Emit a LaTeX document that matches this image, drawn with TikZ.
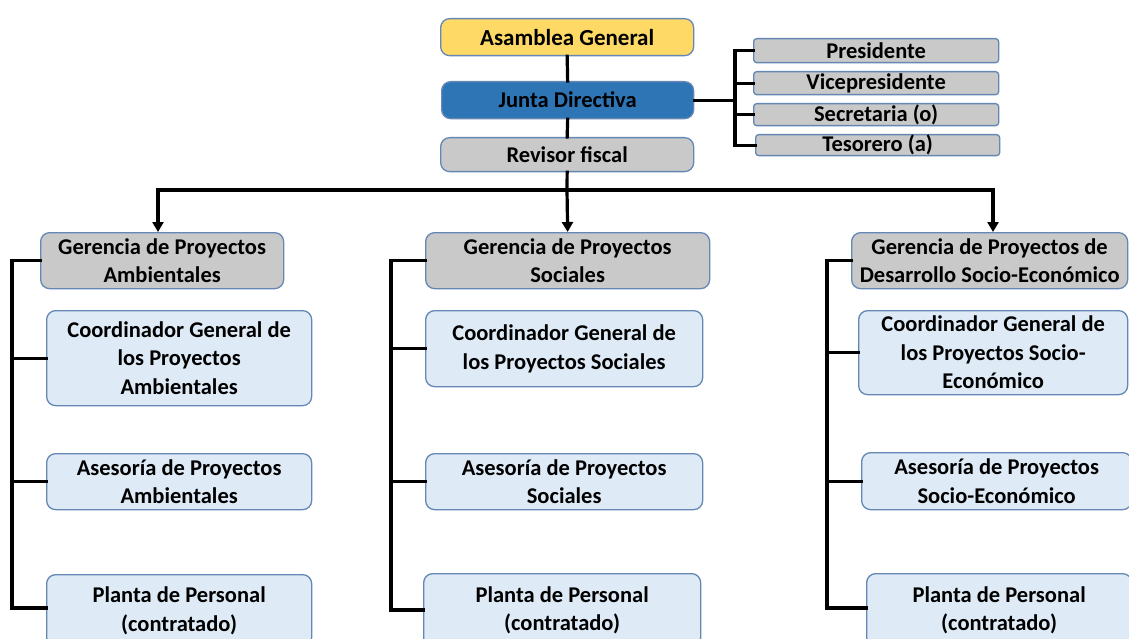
\documentclass[tikz,border=0pt]{standalone}
\usepackage{fontspec}
\setmainfont{Carlito}
\usetikzlibrary{arrows.meta}
\definecolor{yel}{HTML}{FFD966}
\definecolor{blu}{HTML}{2E75B6}
\definecolor{gry}{HTML}{C9C9C9}
\definecolor{lbl}{HTML}{DEEBF7}
\definecolor{bdr}{RGB}{100,135,180}
\tikzset{
  box/.style={draw=bdr, line width=1.3pt, rounded corners=9pt, align=center, inner sep=0pt,
    font=\fontsize{22.5}{28.5}\selectfont\bfseries, anchor=north west, text=black},
  sbox/.style={box, rounded corners=3pt, font=\fontsize{22.5}{24}\selectfont\bfseries},
  conn/.style={line width=3.2pt, line cap=rect},
  arr/.style={line width=3.2pt, -{Triangle[width=11pt,length=10pt]}},
}
\newcommand{\bx}[7]{\node[#1, fill=#2, minimum width=#5-#3, minimum height=#6-#4] (#7) at (#3,#4)}
\begin{document}
\begin{tikzpicture}[x=1pt,y=-1pt]
\clip (0,0) rectangle (1129,639);
\fill[white] (0,0) rectangle (1129,639);
% top column
\bx{box}{yel}{440}{18}{693}{55}{ag} {\fontsize{23}{28}\selectfont Asamblea General};
\bx{box}{blu}{441}{81}{693}{118}{jd} {Junta Directiva};
\bx{box}{gry}{440}{137}{693}{171}{rf} {Revisor fiscal};
% officers
\bx{sbox}{gry}{753}{38}{998}{62}{pr} {Presidente};
\bx{sbox}{gry}{753}{71}{998}{94}{vp} {Vicepresidente};
\bx{sbox}{gry}{753}{103}{998}{125}{se} {Secretaria (o)};
\bx{sbox}{gry}{755}{134}{999}{155}{te} {Tesorero (a)};
% gerencias
\bx{box}{gry}{40}{232}{283}{288}{g1} {Gerencia de Proyectos\\Ambientales};
\bx{box}{gry}{425}{232}{709}{288}{g2} {Gerencia de Proyectos\\Sociales};
\bx{box}{gry}{851}{232}{1127}{288}{g3} {Gerencia de Proyectos de\\Desarrollo Socio-Económico};
% column 1
\bx{box}{lbl}{46}{310}{311}{405}{c1} {Coordinador General de\\los Proyectos\\Ambientales};
\bx{box}{lbl}{46}{453}{311}{509}{a1} {Asesoría de Proyectos\\Ambientales};
\bx{box}{lbl}{46}{574}{311}{646}{p1} {Planta de Personal\\(contratado)};
% column 2
\bx{box}{lbl}{425}{310}{702}{386}{c2} {Coordinador General de\\los Proyectos Sociales};
\bx{box}{lbl}{425}{453}{702}{509}{a2} {Asesoría de Proyectos\\Sociales};
\bx{box}{lbl}{423}{573}{700}{646}{p2} {Planta de Personal\\(contratado)};
% column 3
\bx{box}{lbl}{858}{310}{1127}{394}{c3} {Coordinador General de\\los Proyectos Socio-\\Económico};
\bx{box}{lbl}{861}{452}{1131}{509}{a3} {Asesoría de Proyectos\\Socio-Económico};
\bx{box}{lbl}{866}{573}{1131}{646}{p3} {Planta de Personal\\(contratado)};
% connectors top
\draw[conn] (ag.south) -- (jd.north);
\draw[conn] (jd.south) -- (rf.north);
\coordinate (rb) at (735,0);
\draw[conn] (jd.east) -- (jd.east -| rb);
\draw[conn] (pr.west) -- (pr.west -| rb) -- (te.west -| rb) -- (te.west);
\draw[conn] (vp.west -| rb) -- (vp.west);
\draw[conn] (se.west -| rb) -- (se.west);
% distribution
\coordinate (hb) at (567,190);
\coordinate (h1) at (158,190);
\coordinate (h3) at (993,190);
\draw[conn] (rf.south) -- (hb);
\draw[conn] (h1) -- (h3);
\draw[arr] (h1) -- (h1 |- g1.north);
\draw[arr] (hb) -- (g2.north);
\draw[arr] (h3) -- (h3 |- g3.north);
% brackets
\coordinate (b1) at (12,0);
\coordinate (b2) at (391,0);
\coordinate (b3) at (827,0);
\draw[conn] (g1.west) -- (g1.west -| b1) -- (0,608 -| b1) -- (46,608);
\draw[conn] (c1.west -| b1) -- (c1.west);
\draw[conn] (a1.west -| b1) -- (a1.west);
\draw[conn] (g2.west) -- (g2.west -| b2) -- (0,610 -| b2) -- (423,610);
\draw[conn] (c2.west -| b2) -- (c2.west);
\draw[conn] (a2.west -| b2) -- (a2.west);
\draw[conn] (g3.west) -- (g3.west -| b3) -- (0,608 -| b3) -- (866,608);
\draw[conn] (c3.west -| b3) -- (c3.west);
\draw[conn] (a3.west -| b3) -- (a3.west);
\end{tikzpicture}
\end{document}
